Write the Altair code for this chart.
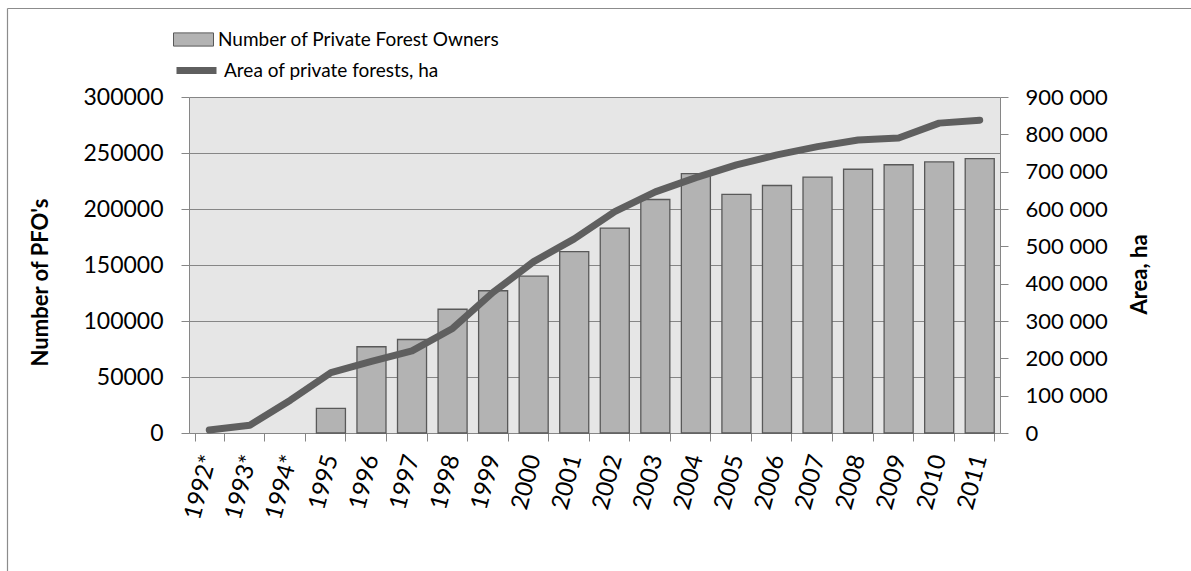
import altair as alt
import pandas as pd

years = ["1992*", "1993*", "1994*", "1995", "1996", "1997", "1998", "1999", "2000",
         "2001", "2002", "2003", "2004", "2005", "2006", "2007", "2008", "2009", "2010", "2011"]
owners = [None, None, None, 22000, 77000, 83500, 110500, 127000, 140000,
          162000, 183000, 208500, 231500, 213000, 221000, 228500, 235500, 239500, 242000, 245000]
area = [8000, 21000, 88000, 162000, 192000, 220000, 280000, 377000, 459000,
        520000, 593000, 646000, 684000, 718000, 745000, 767000, 785000, 790000, 830000, 838000]

bar_name = "Number of Private Forest Owners"
line_name = "Area of private forests, ha"

df = pd.DataFrame({"year": years, "owners": owners, "area": area})

FONT = "Lato"
GRAY = "#868686"

x_enc = alt.X(
    "year:N", sort=years,
    scale=alt.Scale(paddingInner=0.284, paddingOuter=0.142),
    axis=alt.Axis(title=None, labelAngle=285, labelAlign="right", labelBaseline="middle",
                  labelFont=FONT, labelFontSize=24, labelColor="black", labelPadding=14,
                  tickBand="extent", ticks=True, tickSize=8, tickColor=GRAY,
                  domainColor=GRAY, grid=False),
)

base = alt.Chart(df)

bars = base.mark_bar(stroke="#595959", strokeWidth=1.3).transform_calculate(
    s1="'" + bar_name + "'"
).encode(
    x=x_enc,
    y=alt.Y("owners:Q", scale=alt.Scale(domain=[0, 300000]),
            axis=alt.Axis(title="Number of PFO's", orient="left",
                          values=[0, 50000, 100000, 150000, 200000, 250000, 300000],
                          format="d", labelFont=FONT, labelFontSize=23, labelColor="black",
                          labelPadding=18, tickSize=8, tickColor=GRAY, domainColor=GRAY,
                          grid=True, gridColor=GRAY,
                          titleFont=FONT, titleFontSize=22, titleFontWeight="bold",
                          titleColor="black", titleAngle=270, titleX=-149, titleY=185,
                          titleAlign="center", titleBaseline="middle")),
    fill=alt.Fill("s1:N", scale=alt.Scale(domain=[bar_name], range=["#b3b3b3"]),
                  legend=alt.Legend(title=None, orient="none", legendX=-16, legendY=-78,
                                    symbolType="M-1,-0.33H1V0.33H-1Z", symbolSize=1600,
                                    symbolStrokeColor="#595959", symbolStrokeWidth=1,
                                    labelFont=FONT, labelFontSize=19, labelColor="black",
                                    labelOffset=4, labelLimit=0, padding=0)),
)

line = base.mark_line(strokeWidth=7, strokeCap="round", strokeJoin="round").transform_calculate(
    s2="'" + line_name + "'"
).encode(
    x=x_enc,
    y=alt.Y("area:Q", scale=alt.Scale(domain=[0, 900000]),
            axis=alt.Axis(title="Area, ha", orient="right",
                          values=[0, 100000, 200000, 300000, 400000, 500000, 600000, 700000, 800000, 900000],
                          format=",d", labelExpr="replace(datum.label, ',', ' ')",
                          labelFont=FONT, labelFontSize=22, labelColor="black",
                          labelPadding=17, tickSize=8, tickColor=GRAY, domainColor=GRAY,
                          grid=False,
                          titleFont=FONT, titleFontSize=22, titleFontWeight="bold",
                          titleColor="black", titleAngle=270, titleX=139, titleY=177,
                          titleAlign="center", titleBaseline="middle")),
    stroke=alt.Stroke("s2:N", scale=alt.Scale(domain=[line_name], range=["#5f5f5f"]),
                      legend=alt.Legend(title=None, orient="none", legendX=-16, legendY=-50,
                                        symbolType="stroke", symbolSize=1600,
                                        symbolStrokeWidth=7,
                                        labelFont=FONT, labelFontSize=19, labelColor="black",
                                        labelOffset=4, labelLimit=0, padding=0)),
)

frame_data = alt.Data(values=[{"k": 1}])
frame_top = alt.Chart(frame_data).mark_rule(color="#8c8c8c", strokeWidth=1.2).encode(
    x=alt.value(-181.5), x2=alt.value(1010), y=alt.value(-88.5))
frame_left = alt.Chart(frame_data).mark_rule(color="#8c8c8c", strokeWidth=1.2).encode(
    x=alt.value(-181.5), y=alt.value(-88.5), y2=alt.value(480))

chart = alt.layer(bars, line, frame_top, frame_left).resolve_scale(
    y="independent"
).properties(
    width=811, height=336,
    padding={"left": 189, "top": 97, "right": 191, "bottom": 138},
    autosize=alt.AutoSizeParams(type="none"),
    background="white",
).configure_view(fill="#e6e6e6", strokeWidth=0)

chart.save("out.html", embed_options={"renderer": "svg", "actions": False})
